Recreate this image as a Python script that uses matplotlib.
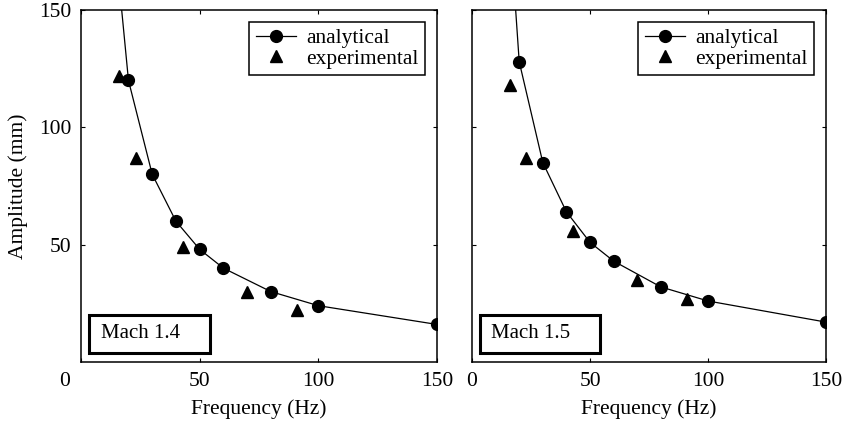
import matplotlib
matplotlib.use("Agg")
import matplotlib.pyplot as plt
import matplotlib.transforms as mtransforms
from matplotlib.patches import Rectangle

plt.rcParams['font.family'] = ['Liberation Serif', 'DejaVu Serif']
plt.rcParams['font.size'] = 15.5

# Mach 1.4
freq_an_14 = [10, 20, 30, 40, 50, 60, 80, 100, 150]
amp_an_14 = [225, 120, 80, 60, 48, 40, 30, 24, 16]
freq_ex_14 = [16, 23, 43, 70, 91]
amp_ex_14 = [122, 87, 49, 30, 22]

# Mach 1.5
freq_an_15 = [10, 20, 30, 40, 50, 60, 80, 100, 150]
amp_an_15 = [275, 128, 85, 64, 51, 43, 32, 26, 17]
freq_ex_15 = [16, 23, 43, 70, 91]
amp_ex_15 = [118, 87, 56, 35, 27]

xticks = [0, 50, 100, 150]
yticks = [50, 100, 150]

W, H = 846, 422
fig = plt.figure(figsize=(W / 100, H / 100), dpi=100)
ax1 = fig.add_axes([81 / W, 60 / H, 356 / W, 352 / H])
ax2 = fig.add_axes([472 / W, 60 / H, 354 / W, 352 / H])


def draw_panel(ax, fa, aa, fe, ae, label):
    ax.plot(fa, aa, '-', color='black', lw=0.9, marker='o', ms=8.5,
            label='analytical')
    ax.plot(fe, ae, linestyle='none', color='black', marker='^', ms=8,
            label='experimental')
    ax.set_xlim(0, 150)
    ax.set_ylim(0, 150)
    ax.set_xticks(xticks)
    ax.set_yticks(yticks)
    ax.tick_params(direction='in', length=3, width=0.8, top=True, right=True,
                   labelsize=15.5, pad=7)
    for s in ax.spines.values():
        s.set_linewidth(1.1)
    ax.set_xlabel('Frequency (Hz)', fontsize=15.5, labelpad=6)
    leg = ax.legend(loc='upper right', fontsize=15.5, frameon=True, fancybox=False,
                    edgecolor='black', framealpha=1, borderpad=0.3,
                    handlelength=1.85, handletextpad=0.5, labelspacing=0.02,
                    borderaxespad=0.55)
    leg.get_frame().set_linewidth(1.1)
    ax.add_patch(Rectangle((0.022, 0.026), 0.34, 0.108, transform=ax.transAxes,
                           fc='white', ec='black', lw=2.2, zorder=4))
    ax.text(0.055, 0.08, label, transform=ax.transAxes, fontsize=15,
            ha='left', va='center', zorder=5)


draw_panel(ax1, freq_an_14, amp_an_14, freq_ex_14, amp_ex_14, 'Mach 1.4')
draw_panel(ax2, freq_an_15, amp_an_15, freq_ex_15, amp_ex_15, 'Mach 1.5')

ax1.set_ylabel('Amplitude (mm)', fontsize=15.5, labelpad=8)
ax2.set_yticklabels([])

# the "0" of the left panel sits left of the axis corner in the original
zero_lab = ax1.get_xticklabels()[0]
zero_lab.set_transform(zero_lab.get_transform() +
                       mtransforms.ScaledTranslation(-16 / 100, 0, fig.dpi_scale_trans))

fig.savefig('out.png', dpi=100)
